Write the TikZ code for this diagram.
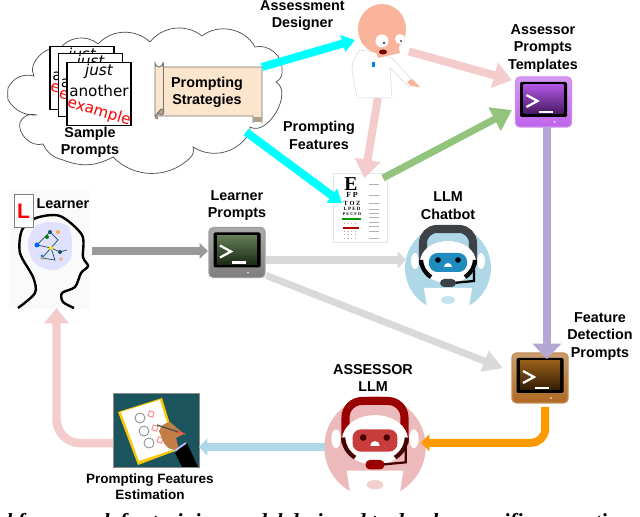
\documentclass[tikz,border=0pt]{standalone}
\usepackage{fontspec}
\setmainfont{Liberation Sans}
\newfontfamily\capfont{Liberation Serif}
\newfontfamily\sheetfont{DejaVu Sans}
\usetikzlibrary{arrows.meta,fit}

\definecolor{cyanflow}{RGB}{0,255,255}
\definecolor{pinkflow}{RGB}{244,204,204}
\definecolor{greenflow}{RGB}{147,196,125}
\definecolor{purpleflow}{RGB}{180,167,214}
\definecolor{grayflow}{RGB}{217,217,217}
\definecolor{darkflow}{RGB}{153,153,153}
\definecolor{orangeflow}{RGB}{255,153,0}
\definecolor{blueflow}{RGB}{174,215,232}
\definecolor{scrollfill}{RGB}{252,229,205}
\definecolor{skin}{RGB}{250,180,155}
\definecolor{teal}{RGB}{28,84,94}
\definecolor{framepurple}{RGB}{190,100,235}
\definecolor{screenpurple}{RGB}{175,85,225}
\definecolor{darkpurple}{RGB}{70,25,95}
\definecolor{framegray}{RGB}{125,125,125}
\definecolor{screengreen}{RGB}{100,125,85}
\definecolor{darkgreen}{RGB}{25,42,20}
\definecolor{framebrown}{RGB}{175,105,35}
\definecolor{screenbrown}{RGB}{150,95,25}
\definecolor{darkbrown}{RGB}{50,28,5}
\definecolor{botblue}{RGB}{174,215,232}
\definecolor{botpink}{RGB}{236,186,186}
\definecolor{bandgray}{RGB}{62,66,70}
\definecolor{bandred}{RGB}{153,0,0}
\definecolor{visorblue}{RGB}{30,140,190}
\definecolor{visorred}{RGB}{200,60,60}
\definecolor{darkred}{RGB}{70,0,0}
\definecolor{handskin}{RGB}{195,125,70}

\tikzset{
    lab/.style={align=center,inner sep=0pt,font=\fontsize{10.2}{12.3}\selectfont\bfseries},
    labsmall/.style={align=center,inner sep=0pt,font=\fontsize{9.6}{11.6}\selectfont\bfseries},
    fitbox/.style={inner sep=0pt,outer sep=0pt},
    flow/.style n args={4}{draw=#1,line width=#2,-{Triangle[length=#3,width=#4]}},
    sheet/.style={draw=black,line width=0.8pt,fill=white,minimum width=45.5pt,minimum height=45pt,inner sep=0pt},
    sheettxt/.style={inner sep=0pt,font=\sheetfont\fontsize{10.8}{12}\selectfont},
    charttxt/.style={inner sep=0pt,font=\capfont\bfseries\fontsize{#1}{#1}\selectfont},
    pics/termicon/.style n args={3}{code={
        \draw[draw=#1!75!white,line width=0.8pt,rounded corners=3pt,top color=#1!65!white,bottom color=#1] (-28,-25) rectangle (28,25);
        \fill[black,rounded corners=1pt] (-23.5,-20) rectangle (23.5,15);
        \fill[top color=#2,bottom color=#3] (-20,-17) rectangle (20,12);
        \draw[white,line width=1.6pt] (-17,-7) -- (-6,-1) -- (-17,5);
        \draw[white,line width=1.6pt] (-5,10) -- (9,10);
        \fill[#1!30!white] (11,20) circle (1.2);
    }},
    pics/robot/.style n args={5}{code={
        \fill[#1] (0,0) circle (43);
        \fill[white] (-24,20) -- (24,20) -- (20,46) -- (-20,46) -- cycle;
        \fill[#1!70!white] (0,32) ellipse [x radius=7,y radius=4];
        \fill[white] (-33,-7) ellipse [x radius=4,y radius=8];
        \fill[white] (33,-7) ellipse [x radius=4,y radius=8];
        \draw[#2,line width=5.7pt] (-25,-3) -- (-25,-25) to[out=90,in=180] (-11,-39) -- (11,-39) to[out=0,in=90] (25,-25) -- (25,-3);
        \fill[white] (0,-6) ellipse [x radius=28,y radius=21];
        \draw[#5,line width=3pt] (-27,-8) to[bend right=25] (-17,9);
        \draw[#5,line width=3pt] (27,-8) to[bend left=25] (17,9);
        \fill[#3,rounded corners=6pt] (-19,-15) rectangle (19,4);
        \fill[#4] (-10,-8) circle (2.8);
        \fill[#4] (10,-8) circle (2.8);
        \fill[white] (-4,-1) arc[start angle=180,end angle=360,radius=4] -- cycle;
        \draw[#5,line width=1.6pt] (26,-3) -- (26,13) -- (5,15);
        \fill[#2,rounded corners=3pt] (-8,11) rectangle (8,19);
    }},
}

\begin{document}
\begin{tikzpicture}[x=0.025cm,y=-0.025cm]
    \useasboundingbox (0,0) rectangle (640,517);

    % cloud
    \draw[fill=white,draw=black!70,line width=0.5pt] (8,88) to[bend left=40] (34,76)
        to[bend left=75] (59,50) to[bend left=50] (98,44) to[bend left=45] (150,42)
        to[bend left=45] (202,36) to[bend left=50] (255,47) to[bend left=55] (282,70)
        to[bend left=35] (276,82) to[bend left=90] (250,127) to[bend left=20] (248,135)
        to[bend left=45] (193,147) to[bend left=30] (190,158) to[bend left=45] (113,157)
        to[bend left=25] (63,160) to[bend left=25] (43,144) to[bend left=60] (20,122)
        to[bend left=40] (37,115) to[bend left=30] (8,100) to[bend left=5] cycle;
    \coordinate (cloudrim) at (246,132);

    % sample prompts
    \foreach \i/\dx/\dy in {1/82/78,2/90.5/85,3/99/94}{
        \node[sheet] (sheet\i) at (\dx,\dy) {};
        \node[sheettxt] (just\i) at (\dx,\dy-23) {\itshape just};
        \node[sheettxt] (another\i) at (\dx,\dy-3) {another};
        \node[sheettxt,red,rotate=-17] (example\i) at (\dx,\dy+18) {example};
    }

    % scroll
    \draw[draw=black!55,fill=scrollfill,line width=0.7pt] (163,67) -- (262,67) -- (262,122) arc[start angle=0,end angle=-180,x radius=4.5,y radius=3] -- (253,116) -- (155,116) -- (155,63) arc[start angle=180,end angle=0,radius=4] -- (163,67);
    \draw[draw=black!55,fill=scrollfill!70!black,line width=0.6pt] (158,112) arc[start angle=180,end angle=-90,radius=3] -- (155,116) arc[start angle=180,end angle=90,radius=3];
    \draw[draw=black!55,line width=0.7pt] (163,63) -- (163,112);
    \fill[scrollfill!70!black] (253,117) rectangle (262,122);
    \node[fitbox,fit={(155,67) (262,116)}] (scroll) {};
    \node[lab] (scrolltxt) at (207,92) {Prompting\\Strategies};

    % designer
    \draw[draw=black!12,fill=white,line width=0.5pt] (360,50) to[bend right=20] (352,70) -- (357,98) -- (392,98) -- (390,68) -- (409,87) -- (413,81) -- (392,58) -- (375,52) -- cycle;
    \fill[skin] (407,82) -- (412,79) -- (420,87) -- (411,86) -- cycle;
    \fill[skin] (382,29) ellipse [x radius=24,y radius=25];
    \fill[skin] (372,40) -- (398,45) -- (400,53) -- (378,58) -- cycle;
    \fill[skin] (365,41) circle (4);
    \fill[white] (382,41) circle (6.5);
    \fill[white] (400,39) circle (5);
    \fill[black!70] (384,43) circle (1.3);
    \fill[black!70] (401,41) circle (1.2);
    \fill[red!45!black] (383,52) ellipse [x radius=4,y radius=2.5];
    \fill[blue!50!cyan] (372,62) rectangle (375,67);
    \node[fitbox,fit={(355,5) (409,98)}] (designer) {};

    % templates, learner prompts, feature prompts
    \pic (icontemplates) at (543.5,102) {termicon={framepurple}{screenpurple}{darkpurple}};
    \node[fitbox,fit={(512,77) (572,127)}] (templates) {};
    \pic (iconlearner) at (237,252.5) {termicon={framegray}{screengreen}{darkgreen}};
    \node[fitbox,fit={(208,226) (266,276)}] (learnerterm) {};
    \pic (iconfeature) at (540,378) {termicon={framebrown}{screenbrown}{darkbrown}};
    \node[fitbox,fit={(503,359) (569,407)}] (feature) {};

    % eye chart
    \draw[draw=black!10,fill=white,line width=0.6pt] (333,173) rectangle (387,242);
    \node[charttxt=14] (rowe) at (351,184) {E};
    \node[charttxt=5.5] (rowf) at (352,195) {F P};
    \node[charttxt=4.5] (rowt) at (352,203) {T O Z};
    \node[charttxt=3.5] (rowl) at (352,209) {L P E D};
    \node[charttxt=3] (rowp) at (352,214) {P E C F D};
    \draw[draw=green!60!black,line width=0.8pt] (342,219) -- (361,219);
    \draw[draw=red!70!black,line width=0.8pt] (343,228) -- (359,228);
    \foreach \y in {223,231,234,238}{
        \draw[draw=black!35,line width=0.5pt,dotted] (344,\y) -- (358,\y);
    }
    \foreach \y in {184,195,203,209,213,217,222,226,231,238}{
        \draw[draw=black!30,line width=0.5pt] (369,\y) -- (379,\y);
    }
    \node[fitbox,fit={(342,178) (387,242)}] (chart) {};

    % learner head
    \fill[black!2] (9,190) rectangle (90,309);
    \fill[blue!12] plot[smooth cycle] coordinates {(28,240) (36,226) (50,222) (68,226) (72,244) (70,260) (56,270) (38,266) (30,255)};
    \draw[draw=teal,line width=0.5pt] (37,245) -- (50,232) -- (58,240) -- (51,248) -- (37,245);
    \draw[draw=teal,line width=0.5pt] (51,248) -- (42,258) -- (55,260) -- (51,248) -- (60,252) -- (67,250);
    \fill[blue!60!cyan] (37,245) circle (2.5);
    \fill[teal] (50,232) circle (2);
    \fill[green!50!black] (47,237) circle (2);
    \fill[yellow!90!orange] (51,248) circle (2);
    \fill[teal] (60,252) circle (2);
    \fill[orange!70] (58,232) circle (2);
    \fill[brown!70] (42,258) circle (1.8);
    \fill[brown!50] (61,259) circle (2);
    \fill[blue!50!cyan] (42,256) circle (1.5);
    \draw[line width=1.7pt] plot[smooth] coordinates {(18,308) (35,293) (33,277) (20,253) (22,230) (36,218) (60,216) (82,235) (83,257) (88,266) (81,273) (75,287) (62,293) (63,302) (74,308)};
    \draw[draw=black!50,fill=white,line width=0.6pt] (14,194) rectangle (33,227);
    \node[inner sep=0pt,red,font=\fontsize{15}{15}\selectfont\bfseries] (plate) at (23.5,211) {L};
    \node[fitbox,fit={(9,194) (92,308)}] (learner) {};
    \node[lab] (learnertxt) at (63,204) {Learner};

    % chatbots
    \pic (botchat) at (448,268) {robot={botblue}{bandgray}{visorblue}{black}{black}};
    \node[fitbox,fit={(406,225) (491,311)}] (chatbot) {};
    \pic[scale=1.18] (botassess) at (375,447) {robot={botpink}{bandred}{visorred}{darkred}{darkred}};
    \node[fitbox,fit={(325,397) (421,497)}] (assessor) {};

    % estimation sheet
    \draw[draw=black!45,fill=teal,line width=0.4pt] (113,393) rectangle (199,467);
    \fill[yellow!60!orange] (118,412) -- (162,398) -- (178,450) -- (138,465) -- cycle;
    \fill[white] (121,412) -- (160,400) -- (175,449) -- (139,461) -- cycle;
    \foreach \fx/\fy in {140/418,144/431,149/443}{
        \draw[draw=black!45,line width=0.6pt] (\fx,\fy) circle (5);
    }
    \foreach \sx/\sy in {151/414,155/428,160/440}{
        \draw[draw=red!45,line width=0.7pt,rotate around={-17:(\sx,\sy)}] (\sx-2.5,\sy-2.5) rectangle (\sx+2.5,\sy+2.5);
    }
    \fill[black] (175,453) -- (187,443) -- (198,467) -- (182,467) -- cycle;
    \draw[draw=blue!25,line width=1.2pt] (174,451) -- (186,443);
    \fill[handskin] (159,431) to[bend left=30] (170,422) -- (184,434) -- (176,438) -- (178,446) -- (175,450) to[bend left=30] (163,441) -- cycle;
    \draw[draw=black!70,line width=0.9pt] (157,425) -- (178,432);
    \draw[draw=red!70,line width=0.9pt] (178,432) -- (185,434);
    \node[fitbox,fit={(113,393) (199,467)}] (estimation) {};

    % connectors
    \draw[flow={cyanflow}{5.7pt}{9pt}{12pt}] (scroll.north east) -- (designer.157);
    \draw[flow={cyanflow}{5.7pt}{9pt}{12pt}] (cloudrim) -- (chart.163);
    \draw[flow={pinkflow}{5.7pt}{13pt}{18pt}] (designer.east) -- (templates.144);
    \draw[flow={pinkflow}{5.7pt}{13pt}{18pt}] (designer.265) -- (chart.north);
    \draw[flow={greenflow}{5pt}{14pt}{18pt}] (chart.60) -- (templates.195);
    \draw[flow={purpleflow}{5.2pt}{11pt}{20pt}] (templates.281) -- (templates.281 |- feature.north);
    \draw[flow={darkflow}{5.7pt}{6pt}{11pt}] (learner.east) -- (learnerterm.west);
    \draw[flow={grayflow}{5.7pt}{6pt}{12pt}] (learnerterm.343) -- (learnerterm.343 -| chatbot.west);
    \draw[flow={grayflow}{5pt}{14pt}{15pt}] (learnerterm.320) -- (feature.156);
    \draw[flow={orangeflow}{5.7pt}{6pt}{12pt},rounded corners=10pt] (feature.291) |- (assessor.5);
    \draw[flow={blueflow}{5.7pt}{6pt}{12pt}] (assessor.west) -- (estimation.east |- assessor.west);
    \draw[flow={pinkflow}{6pt}{11pt}{17pt},rounded corners=17pt] (estimation.197) -| (learner.276.5);

    % labels
    \node[lab] (designertxt) at (302.5,15.5) {Assessment\\Designer};
    \node[lab] (featurestxt) at (319,135.5) {Prompting\\Features};
    \node[lab] (sampletxt) at (90,142) {Sample\\Prompts};
    \node[lab] (templatestxt) at (543,48.5) {Assessor\\Prompts\\Templates};
    \node[lab] (learnertermtxt) at (237,205.5) {Learner\\Prompts};
    \node[lab] (chatbottxt) at (448,205.5) {LLM\\Chatbot};
    \node[lab] (detecttxt) at (600,336.5) {Feature\\Detection\\Prompts};
    \node[lab] (assessortxt) at (373,378) {ASSESSOR\\LLM};
    \node[labsmall] (estimationtxt) at (150,487) {Prompting Features\\Estimation};

    % cut off line of the caption
    \begin{scope}
        \clip (0,0) rectangle (640,517);
        \node[anchor=base,inner sep=0pt,font=\capfont\bfseries\itshape\fontsize{15.3}{17}\selectfont] (caption) at (318,529) {l framework for training model designed to develop specific prompting};
    \end{scope}
\end{tikzpicture}
\end{document}
